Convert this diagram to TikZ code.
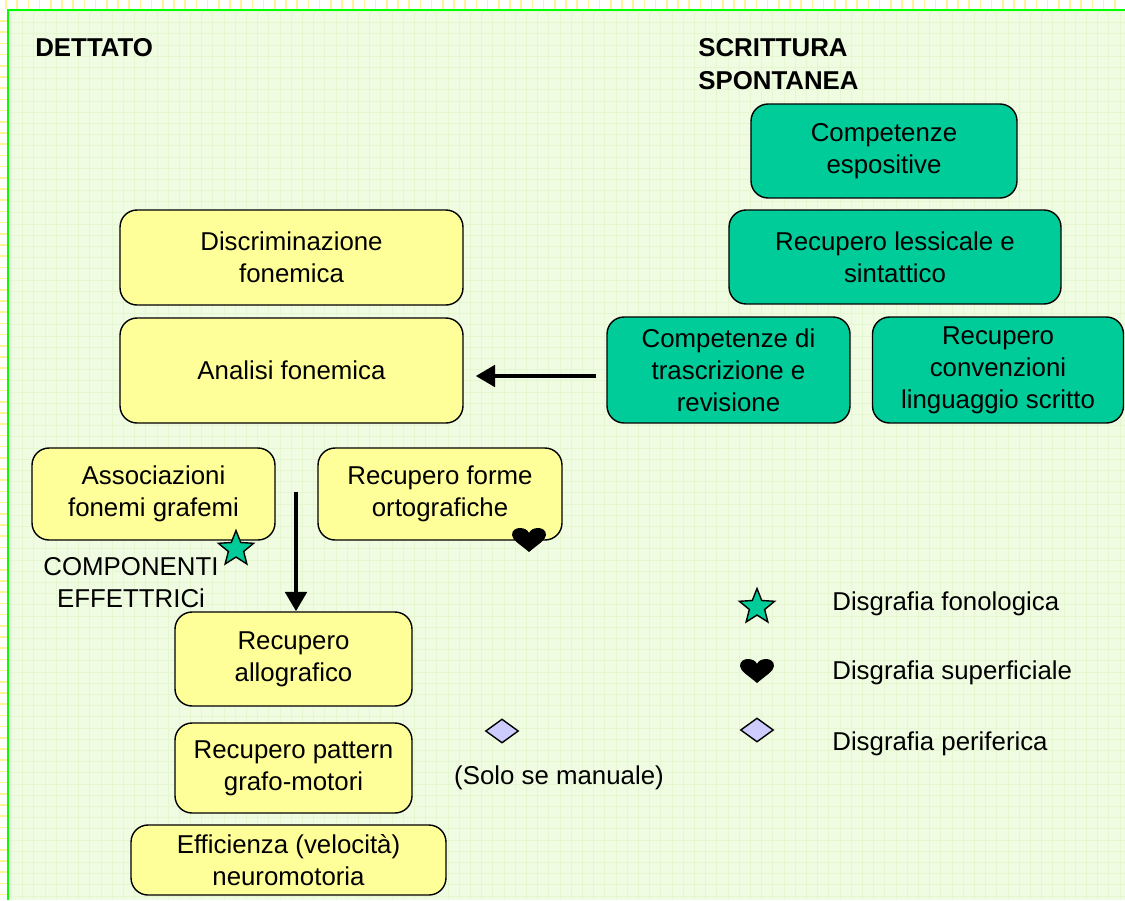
\documentclass[tikz,border=0pt]{standalone}
\usepackage{fontspec}
\setmainfont{Liberation Sans}
\usetikzlibrary{arrows.meta,shapes.geometric}

\definecolor{tealfill}{RGB}{0,204,153}
\definecolor{yellowfill}{RGB}{255,255,153}
\definecolor{lilacfill}{RGB}{204,204,255}
\definecolor{sheetgreen}{RGB}{240,252,226}
\definecolor{gridgreen}{RGB}{229,247,208}
\definecolor{tickyellow}{RGB}{255,243,150}

\begin{document}
\begin{tikzpicture}[x=0.02cm, y=-0.02cm,
  every node/.style={font=\fontsize{14.7}{18.3}\selectfont},
  dictbox/.style={draw=black, line width=0.8pt, rounded corners=0.34cm, fill=yellowfill, align=center, inner sep=2pt},
  freebox/.style={draw=black, line width=0.8pt, rounded corners=0.34cm, fill=tealfill, align=center, inner sep=2pt},
  heading/.style={font=\fontsize{14.7}{18.5}\selectfont\bfseries, align=left, anchor=west, inner sep=0pt},
  legendtext/.style={anchor=west, inner sep=0pt},
  starmark/.style={star, star points=5, star point ratio=2.3, minimum size=0.74cm, inner sep=0pt, draw=black, line width=0.8pt, fill=tealfill},
  diamondmark/.style={diamond, minimum width=0.66cm, minimum height=0.48cm, inner sep=0pt, draw=black, line width=0.8pt, fill=lilacfill},
  bigarrow/.style={line width=2.6pt, -{Triangle[length=11pt,width=12pt]}},
  heartmark/.pic={
    \fill[black] (0,12) .. controls (-8,5) and (-17,0) .. (-17,-5)
      .. controls (-17,-10) and (-13,-12) .. (-9,-12)
      .. controls (-5,-12) and (-1,-10) .. (0,-7)
      .. controls (1,-10) and (5,-12) .. (9,-12)
      .. controls (13,-12) and (17,-10) .. (17,-5)
      .. controls (17,0) and (8,5) .. (0,12) -- cycle;
  }]
  \useasboundingbox (0,0) rectangle (1125,900);

  % sheet background
  \fill[white] (0,0) rectangle (1125,900);
  \foreach \i in {0,...,100} \draw[tickyellow, line width=1pt] (6+\i*11.2,0) -- (6+\i*11.2,9);
  \foreach \i in {0,...,80} \draw[tickyellow, line width=1pt] (0,21+\i*11.2) -- (7,21+\i*11.2);
  \fill[sheetgreen] (8,10) rectangle (1125,900);
  \draw[gridgreen, line width=0.3pt, step=0.224cm] (8,10) grid (1125,900);
  \draw[green, line width=1.4pt] (8,900) -- (8,10) -- (1125,10);

  % headings
  \node[heading] (dettato) at (35,48) {DETTATO};
  \node[heading] (spontanea) at (698,64) {SCRITTURA\\SPONTANEA};

  % spontaneous writing column
  \node[freebox, minimum width=5.32cm, minimum height=1.88cm] (espo) at (884,151) {Competenze\\espositive};
  \node[freebox, minimum width=6.64cm, minimum height=1.88cm] (lessico) at (895,257) {Recupero lessicale e\\sintattico};
  \node[freebox, minimum width=4.86cm, minimum height=2.12cm] (trascr) at (728.5,370) {Competenze di\\trascrizione e\\revisione};
  \node[freebox, minimum width=5.02cm, minimum height=2.12cm] (conv) at (998,370) {Recupero\\convenzioni\\linguaggio scritto};

  % dictation column
  \node[dictbox, minimum width=6.86cm, minimum height=1.9cm] (discr) at (291.5,257.5) {Discriminazione\\fonemica};
  \node[dictbox, minimum width=6.86cm, minimum height=2.1cm] (analisi) at (291.5,370.5) {Analisi fonemica};
  \node[dictbox, minimum width=4.86cm, minimum height=1.84cm] (assoc) at (153.5,494) {Associazioni\\fonemi grafemi};
  \node[dictbox, minimum width=4.88cm, minimum height=1.84cm] (forme) at (440,494) {Recupero forme\\ortografiche};
  \node[dictbox, minimum width=4.74cm, minimum height=1.88cm] (allog) at (293.5,659) {Recupero\\allografico};
  \node[dictbox, minimum width=4.74cm, minimum height=1.8cm] (pattern) at (293.5,768) {Recupero pattern\\grafo-motori};
  \node[dictbox, minimum width=6.3cm, minimum height=1.4cm] (effic) at (288.5,860) {Efficienza (velocità)\\neuromotoria};

  % arrows
  \draw[bigarrow, shorten <=0.2cm, shorten >=0.24cm] ([yshift=-0.12cm]trascr.west) -- ([yshift=-0.12cm]trascr.west -| analisi.east);
  \coordinate (split) at (296,492);
  \draw[bigarrow] (split) -- (split |- allog.north);

  % effector components
  \node[align=center, inner sep=0pt] (effettr) at (131,583) {COMPONENTI\\EFFETTRICi};
  \node[starmark] (star1) at (236,549) {};
  \pic at (529,540) {heartmark};
  \node[diamondmark] (diam1) at (502,731) {};
  \node[inner sep=0pt] (manuale) at (559,778) {(Solo se manuale)};

  % legend
  \node[starmark] (star2) at (757,607) {};
  \pic at (757,671) {heartmark};
  \node[diamondmark] (diam2) at (757,730) {};
  \node[legendtext] (fonol) at (832,604) {Disgrafia fonologica};
  \node[legendtext] (superf) at (832,673) {Disgrafia superficiale};
  \node[legendtext] (perif) at (832,744) {Disgrafia periferica};

\end{tikzpicture}
\end{document}
